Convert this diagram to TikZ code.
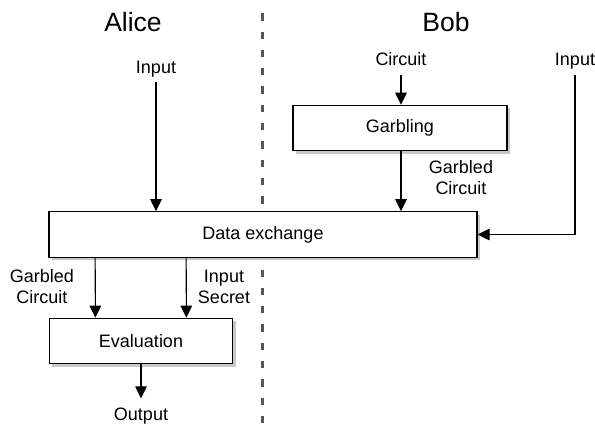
\documentclass[tikz,border=0pt]{standalone}
\usepackage{fontspec}
\setmainfont{Liberation Sans}
\usetikzlibrary{arrows.meta, shadows}
\definecolor{partyline}{RGB}{85, 85, 85}
\definecolor{boxshadow}{RGB}{200, 200, 200}

\begin{document}
\begin{tikzpicture}[x=1pt, y=-1pt,
    box/.style = {draw, line width=1.1pt, fill=white, inner sep=0pt,
      minimum height=45.5pt, font=\fontsize{18}{21}\selectfont,
      drop shadow={shadow xshift=3pt, shadow yshift=-3pt, fill=boxshadow, opacity=1}},
    lbl/.style = {inner sep=0pt, outer sep=5pt, align=center, font=\fontsize{18}{21}\selectfont},
    party/.style = {inner sep=0pt, font=\fontsize{26.5}{30}\selectfont},
    flow/.style = {line width=1.1pt, -{Triangle[length=12pt, width=11.5pt]}}]
  \useasboundingbox (0,0) rectangle (595,425);

  \draw[partyline, line width=3pt, dash pattern=on 7.3pt off 11pt] (262,13.3) -- (262,425);

  \node[party, anchor=base] (alice) at (133,31.7) {Alice};
  \node[party, anchor=base] (bob) at (446,31.7) {Bob};

  \node[box, minimum width=214pt] (garble) at (400,128) {Garbling};
  \node[box, minimum width=428pt] (exch) at (263,234.5) {Data exchange};
  \node[box, minimum width=183.5pt] (eval) at (141,341) {Evaluation};

  \node[lbl, anchor=base] (inA) at (156,73.3) {Input};
  \node[lbl, anchor=base, outer sep=9pt] (circ) at (401,66) {Circuit};
  \node[lbl, anchor=base] (inB) at (575,66) {Input};
  \node[lbl, anchor=base, outer sep=9.5pt] (out) at (141,420.5) {Output};
  \node[lbl] (gcB) at (461,177.6) {Garbled\\Circuit};
  \node[lbl] (gcA) at (42,287) {Garbled\\Circuit};
  \node[lbl] (isA) at (224,287) {Input\\Secret};

  \draw[flow] (inA.south) -- (inA.south |- exch.north);
  \draw[flow] (circ.south) -- (circ.south |- garble.north);
  \draw[flow] (circ.south |- garble.south) -- (circ.south |- exch.north);
  \draw[flow] (inB.south) |- (exch.east);
  \draw[flow] ([xshift=46.7pt]exch.south west) -- ([xshift=46.7pt]eval.north west);
  \draw[flow] ([xshift=137.7pt]exch.south west) -- ([xshift=137.7pt]eval.north west);
  \draw[flow] (eval.south) -- (out.north);
\end{tikzpicture}
\end{document}
